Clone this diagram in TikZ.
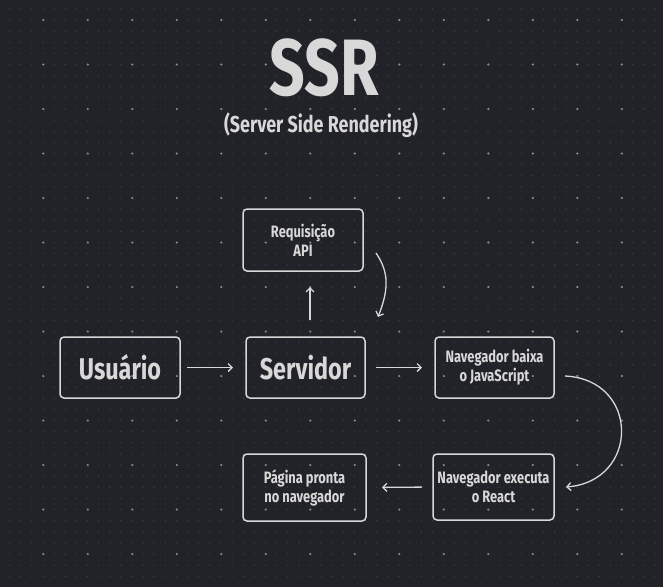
\documentclass[tikz,border=0pt]{standalone}
\usepackage{fontspec}
\newfontfamily\hand[FakeStretch=0.78]{Fira Sans}
\usetikzlibrary{arrows.meta,calc}
\definecolor{bg}{HTML}{212328}
\definecolor{dotdim}{HTML}{3A3D43}
\definecolor{dotbright}{HTML}{8A8B8E}
\definecolor{ink}{HTML}{D8D8D8}
\begin{document}
\begin{tikzpicture}[x=1pt,y=-1pt,
  box/.style={draw=ink,line width=1.5pt,rounded corners=4pt,inner sep=0pt,outer sep=0pt,
    align=center,text=ink,font=\hand\bfseries\fontsize{16.5}{19}\selectfont},
  bigbox/.style={box,font=\hand\bfseries\fontsize{30}{34}\selectfont},
  conn/.style={draw=ink,line width=1.3pt,-{Straight Barb[length=4pt,width=8pt]}}]
\useasboundingbox (0,0) rectangle (663,587);
\fill[bg] (0,0) rectangle (663,587);
% grid dots
\foreach \i in {0,...,58}{
  \foreach \j in {0,...,51}{
    \fill[dotdim] ({9.6+11.125*\i},{8.9+11.125*\j}) circle (0.8);
  }
}
\foreach \i in {0,...,14}{
  \foreach \j in {0,...,12}{
    \fill[dotbright] ({43.3+44.5*\i},{20+44.5*\j}) circle (1.2);
  }
}
% titles
\node[text=ink,font=\hand\bfseries\fontsize{80}{80}\selectfont] (title) at (324,68) {SSR};
\node[text=ink,font=\hand\bfseries\fontsize{23}{26}\selectfont] (subtitle) at (321,125) {(Server Side Rendering)};
% boxes
\node[box,minimum width=120,minimum height=62] (api) at (303,240) {Requisição\\API};
\node[bigbox,minimum width=120,minimum height=61] (usr) at (120,367.5) {Usuário};
\node[bigbox,minimum width=119,minimum height=61] (srv) at (305.5,367.5) {Servidor};
\node[box,minimum width=119,minimum height=61] (nav1) at (494.5,367.5) {Navegador baixa\\o JavaScript};
\node[box,minimum width=121,minimum height=66] (nav2) at (493.5,487) {Navegador executa\\o React};
\node[box,minimum width=123,minimum height=67] (pag) at (304.5,487.5) {Página pronta\\no navegador};
% connectors
\draw[conn,shorten <=7pt,shorten >=13pt] (usr.east) -- (srv.west);
\draw[conn,shorten <=11pt,shorten >=13pt] (srv.east) -- (nav1.west);
\draw[conn,shorten <=17pt,shorten >=16pt] ($(srv.north)+(4.5,0)$) -- ($(api.south)+(7,0)$);
\draw[conn,shorten <=11pt,shorten >=16pt] (nav2.west) -- (pag.east);
\draw[conn] ($(api.east)+(13,13)$) .. controls ($(api.east)+(26,32)$) and ($(srv.north east)+(24,-48)$) .. ($(srv.north east)+(13,-20)$);
\draw[conn] ($(nav1.east)+(11,8.5)$) .. controls ($(nav1.east)+(86,12)$) and ($(nav2.east)+(86,-6)$) .. ($(nav2.east)+(12,0)$);
\end{tikzpicture}
\end{document}
